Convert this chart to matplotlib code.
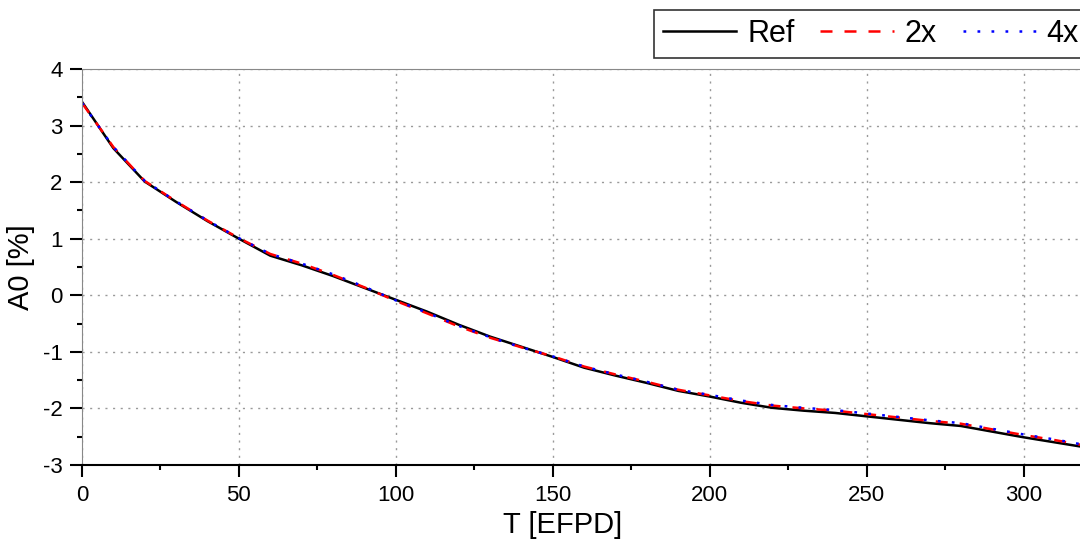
import matplotlib.pyplot as plt
import numpy as np

plt.rcParams['font.family'] = ['Liberation Sans', 'DejaVu Sans']
plt.rcParams['axes.unicode_minus'] = False

# burnup steps [EFPD]
t = [0, 10, 20, 30, 40, 50, 60, 70, 80, 90, 100, 110, 120, 130, 140, 150, 160,
     170, 180, 190, 200, 210, 220, 230, 240, 250, 260, 270, 280, 290, 300, 310, 320]

a0_ref = [3.42, 2.60, 2.01, 1.65, 1.31, 1.00, 0.70, 0.53, 0.34, 0.13, -0.08, -0.29,
          -0.52, -0.73, -0.91, -1.09, -1.28, -1.42, -1.55, -1.69, -1.79, -1.90, -1.99,
          -2.04, -2.08, -2.14, -2.20, -2.26, -2.31, -2.41, -2.51, -2.60, -2.69]
a0_2x = [3.40, 2.62, 2.02, 1.66, 1.32, 1.01, 0.73, 0.56, 0.36, 0.14, -0.10, -0.32,
         -0.55, -0.75, -0.92, -1.08, -1.26, -1.40, -1.53, -1.67, -1.77, -1.87, -1.95,
         -2.00, -2.04, -2.10, -2.16, -2.22, -2.27, -2.37, -2.47, -2.56, -2.66]
a0_4x = [3.40, 2.62, 2.02, 1.66, 1.32, 1.01, 0.73, 0.56, 0.37, 0.15, -0.09, -0.31,
         -0.54, -0.74, -0.92, -1.08, -1.26, -1.40, -1.53, -1.67, -1.76, -1.86, -1.94,
         -1.99, -2.03, -2.09, -2.15, -2.21, -2.26, -2.36, -2.46, -2.55, -2.65]

fig = plt.figure(figsize=(10.8, 5.41), dpi=100)
ax = fig.add_axes([0.0759, 0.1405, 0.9241, 0.732])

l1, = ax.plot(t, a0_ref, color='black', lw=1.8, label='Ref')
l2, = ax.plot(t, a0_2x, color='red', lw=1.8, ls=(0, (4.8, 4.8)), label='2x')
l3, = ax.plot(t, a0_4x, color='blue', lw=1.8, ls=(0, (1.1, 4.5)), label='4x')

ax.set_xlim(0, 318)
ax.set_ylim(-3, 4)
ax.set_xticks(np.arange(0, 301, 50))
ax.set_xticks(np.arange(25, 318, 50), minor=True)
ax.set_yticks(np.arange(-3, 5, 1))
ax.set_yticks(np.arange(-2.5, 4, 1), minor=True)
ax.tick_params(which='major', direction='out', length=8.6, width=1.5, labelsize=16)
ax.tick_params(which='minor', direction='out', length=3.8, width=1.5)
ax.tick_params(axis='x', which='major', pad=6)
ax.tick_params(axis='y', which='major', pad=5.5)

ax.grid(True, which='major', color='#999999', ls=(0, (1.5, 4)), lw=1)

for side in ['top', 'left']:
    ax.spines[side].set_color('#888888')
ax.spines['bottom'].set_color('black')
ax.spines['bottom'].set_linewidth(1.5)
ax.spines['right'].set_visible(False)

ax.set_xlabel('T [EFPD]', fontsize=21)
ax.xaxis.set_label_coords(0.482, -0.115)
ax.set_ylabel('A0 [%]', fontsize=21)
ax.yaxis.set_label_coords(-0.047, 0.5)

leg = fig.legend(handles=[l1, l2, l3], loc='upper left', bbox_to_anchor=(0.6055, 0.982),
                 ncol=3, fontsize=22, frameon=True, fancybox=False, edgecolor='black',
                 handlelength=2.4, columnspacing=0.85, handletextpad=0.35,
                 borderpad=0.3, borderaxespad=0)
leg.get_frame().set_linewidth(1.2)

fig.savefig('out.png', dpi=100)
